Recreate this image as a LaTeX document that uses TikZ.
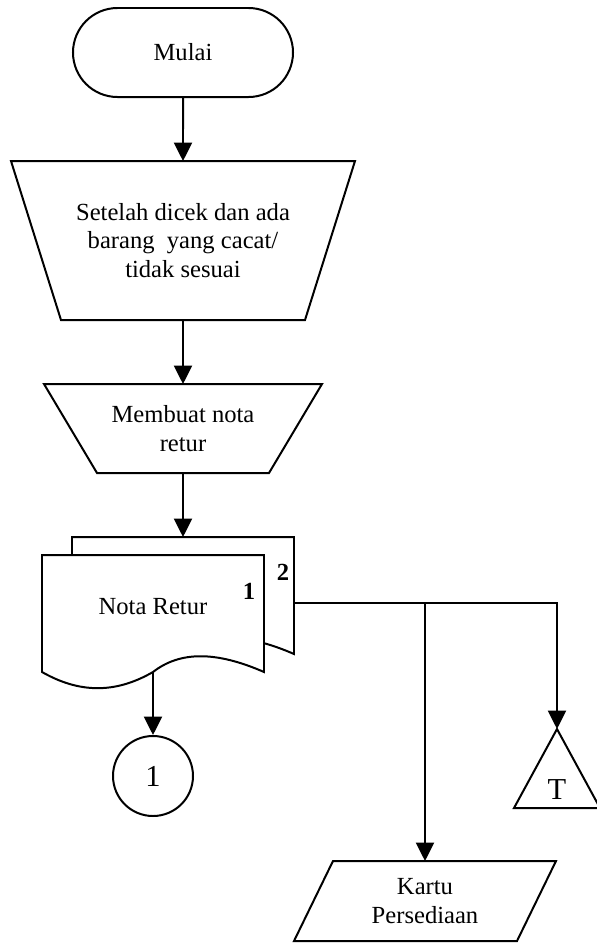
\documentclass[tikz,border=0pt]{standalone}
\usepackage{fontspec}
\setmainfont{Liberation Serif}
\usetikzlibrary{arrows.meta,shapes.misc}

\begin{document}
\begin{tikzpicture}[x=0.03cm, y=-0.03cm, line width=1.7pt,
    font=\fontsize{21}{24.5}\selectfont,
    box/.style={inner sep=0pt, align=center},
    big/.style={font=\fontsize{26}{30}\selectfont},
    num/.style={font=\fontsize{21}{24}\selectfont\bfseries},
    arr/.style={-{Triangle[length=0.55cm, width=0.54cm]}}]
  \useasboundingbox (0,0) rectangle (597,943);

  \node[box, draw, rounded rectangle, minimum width=6.6cm, minimum height=2.67cm] (mulai) at (183,52.5) {Mulai};

  \node[box, minimum width=10.26cm, minimum height=4.71cm] (cek) at (183,240.5)
    {Setelah dicek dan ada\\barang~ yang cacat/\\tidak sesuai};
  \draw (cek.north west) -- (cek.north east) -- ([xshift=-1.5cm]cek.south east)
    -- ([xshift=1.5cm]cek.south west) -- cycle;

  \node[box, minimum width=8.28cm, minimum height=2.61cm] (buat) at (183,428.5)
    {Membuat nota\\retur};
  \draw (buat.north west) -- (buat.north east) -- ([xshift=-1.59cm]buat.south east)
    -- ([xshift=1.59cm]buat.south west) -- cycle;

  \node[box, minimum width=6.6cm, minimum height=3.45cm] (nota2) at (183,595.5) {};
  \node[box, minimum width=6.6cm, minimum height=3.45cm] (nota1) at (153,613.5) {};
  \foreach \d in {nota2,nota1}
    \filldraw[fill=white] (\d.north west) -- (\d.north east) -- (\d.south east)
      .. controls +(-48,-21) and +(27,-21) .. (\d.south)
      .. controls +(-33,19) and +(42,24) .. (\d.south west) -- cycle;
  \node[num] (lbl2) at ([shift={(-11,35)}]nota2.north east) {2};
  \node[num] (lbl1) at ([shift={(-15,36)}]nota1.north east) {1};
  \node (notatxt) at ([yshift=0.22cm]nota1.center) {Nota Retur};

  \node[box, big, draw, circle, minimum size=2.4cm] (c1) at (153,776) {1};

  \node[box, minimum width=2.52cm, minimum height=2.31cm] (arsip) at (557,768.5) {};
  \draw (arsip.north) -- (arsip.south east) -- (arsip.south west) -- cycle;
  \node[big] (arsiptxt) at (557,790) {T};

  \node[box, minimum width=7.8cm, minimum height=2.34cm] (kartu) at (425,901)
    {Kartu\\Persediaan};
  \draw ([xshift=1.17cm]kartu.north west) -- (kartu.north east)
    -- ([xshift=-1.17cm]kartu.south east) -- (kartu.south west) -- cycle;

  \draw[arr] (mulai) -- (cek);
  \draw[arr] (cek) -- (buat);
  \draw[arr] (buat) -- (nota2);
  \draw[arr] (nota1.south) -- (c1);
  \coordinate (keluar) at ([yshift=-0.225cm]nota2.east);
  \draw[arr] (keluar) -| (arsip.north);
  \draw[arr] (keluar -| kartu.north) -- (kartu.north);
\end{tikzpicture}
\end{document}
